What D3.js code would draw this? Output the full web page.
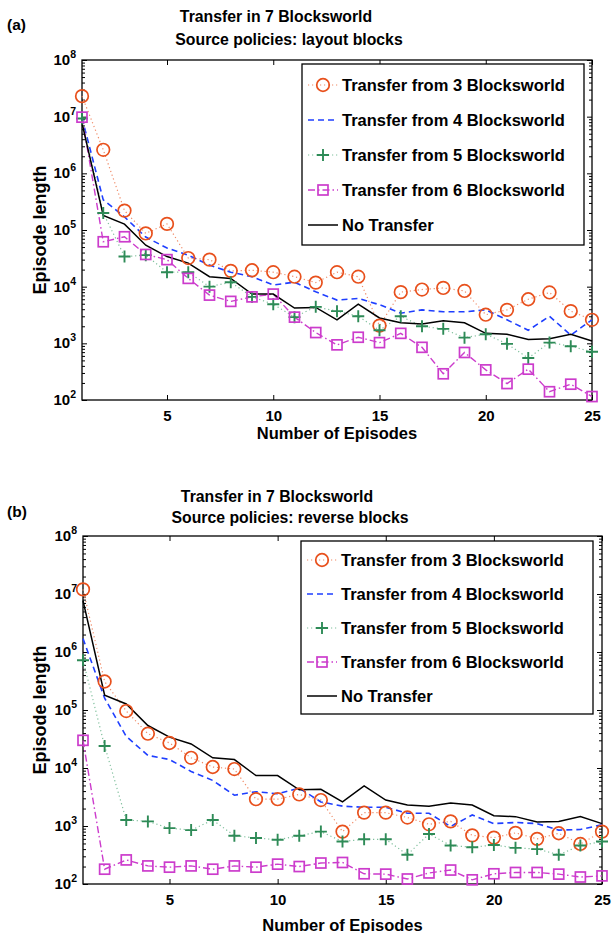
<!DOCTYPE html>
<html><head><meta charset="utf-8">
<script src="https://cdn.jsdelivr.net/npm/d3@7"></script>
<style>
body{margin:0;background:#fff;}
svg{display:block;font-family:"Liberation Sans",Arial,Helvetica,sans-serif;font-weight:bold;}
</style></head>
<body>
<svg id="chart" width="612" height="933"></svg>
<script>
// ---- data ----
const episodes = d3.range(1, 26);
const seriesNames = ["Transfer from 3 Blocksworld","Transfer from 4 Blocksworld","Transfer from 5 Blocksworld","Transfer from 6 Blocksworld","No Transfer"];
const xTicks = [5, 10, 15, 20, 25];
const yDecades = [2, 3, 4, 5, 6, 7, 8];

const noTransfer = [7.7e6,1.8e5,1.27e5,5.4e4,3.4e4,2.6e4,1.5e4,1.4e4,7.4e3,7.4e3,4.2e3,4.3e3,2.6e3,4.9e3,2.8e3,2.3e3,2.2e3,2.5e3,2.3e3,1.5e3,1.45e3,1.17e3,1.2e3,1.45e3,1.1e3];

// (a) layout blocks
const layout3 = [2.3e7,2.6e6,2.2e5,8.7e4,1.28e5,3.2e4,3.0e4,1.9e4,1.95e4,1.8e4,1.5e4,1.18e4,1.8e4,1.5e4,2.05e3,8.0e3,8.9e3,9.5e3,8.4e3,3.2e3,3.9e3,6.0e3,7.9e3,3.7e3,2.6e3];
const layout4 = [9.5e6,3.4e5,1.7e5,7.5e4,4.8e4,3.6e4,2.4e4,1.8e4,1.5e4,1.07e4,1.2e4,8.1e3,5.8e3,6.2e3,4.8e3,3.4e3,3.9e3,3.6e3,3.6e3,3.9e3,2.6e3,1.7e3,3.0e3,1.4e3,2.6e3];
const layout5 = [9.3e6,2.0e5,3.4e4,3.6e4,1.8e4,1.8e4,1.0e4,1.2e4,6.6e3,4.9e3,2.9e3,4.4e3,3.7e3,3.0e3,1.7e3,3.0e3,2.0e3,1.8e3,1.26e3,1.45e3,980,550,1.03e3,890,710];
const layout6 = [9.8e6,6.2e4,7.6e4,3.7e4,3.0e4,1.4e4,7.1e3,5.5e3,6.6e3,7.4e3,2.9e3,1.55e3,940,1.28e3,1.03e3,1.5e3,850,290,690,340,195,350,140,190,115];

// (b) reverse blocks
const reverse3 = [1.2e7,3.1e5,9.6e4,3.9e4,2.7e4,1.5e4,1.04e4,9.6e3,2.9e3,2.9e3,3.5e3,2.8e3,800,1.7e3,1.7e3,1.4e3,1.07e3,1.2e3,690,630,760,600,750,490,800];
const reverse4 = [1.7e6,1.6e5,3.5e4,1.65e4,1.4e4,8.7e3,6.1e3,3.4e3,3.9e3,3.6e3,4.5e3,2.6e3,2.2e3,2.1e3,2.1e3,1.66e3,1.66e3,980,1.55e3,1.1e3,1.15e3,1.1e3,850,870,1.05e3];
const reverse5 = [7.2e5,2.4e4,1.27e3,1.2e3,920,850,1.27e3,680,620,580,680,800,540,590,590,320,730,460,430,470,420,400,320,460,540];
const reverse6 = [3.0e4,180,260,205,195,205,180,205,195,220,200,230,235,150,148,122,155,174,118,150,158,158,148,132,138];

const styles = [
  {color:"#e8501c", line:"#f08a66", dash:"1.2,2.8", width:1.2, marker:"circle"},
  {color:"#1f3fff", line:"#1f3fff", dash:"6,4", width:1.6, marker:null},
  {color:"#2e8b57", line:"#7fbf9c", dash:"1.2,2.8", width:1.2, marker:"plus"},
  {color:"#cc3ccc", line:"#cc3ccc", dash:"7,3,1.5,3", width:1.4, marker:"square"},
  {color:"#000000", line:"#000000", dash:null, width:1.5, marker:null}
];

const svg = d3.select("#chart");

function drawMarker(g, type, x, y, color){
  if(type==="circle"){
    g.append("circle").attr("cx",x).attr("cy",y).attr("r",6.3)
     .attr("fill","none").attr("stroke",color).attr("stroke-width",1.7);
  } else if(type==="square"){
    g.append("rect").attr("x",x-5).attr("y",y-5).attr("width",10).attr("height",10)
     .attr("fill","none").attr("stroke",color).attr("stroke-width",1.7);
  } else if(type==="plus"){
    g.append("path").attr("d",`M${x-6},${y}H${x+6}M${x},${y-6}V${y+6}`)
     .attr("stroke",color).attr("stroke-width",1.9).attr("fill","none");
  }
}

function panel(cfg){
  const {left,right,top,bottom,data,tag,title1,title2,title1X,title2X,title1Y,title2Y,tagY,legend,xLabelY} = cfg;
  const x = d3.scaleLinear().domain([1,25]).range([left,right]);
  const y = d3.scaleLog().domain([1e2,1e8]).range([bottom,top]);
  const g = svg.append("g");

  // frame
  g.append("rect").attr("x",left).attr("y",top).attr("width",right-left).attr("height",bottom-top)
    .attr("fill","none").attr("stroke","#000").attr("stroke-width",1.3);

  const majors = yDecades.map(e=>Math.pow(10,e));
  const minors = [];
  for(let e=2;e<8;e++) for(let m=2;m<=9;m++) minors.push(m*Math.pow(10,e));

  // axes
  g.append("g").attr("transform",`translate(${left},0)`).call(d3.axisLeft(y).tickValues(majors).tickSize(-5).tickFormat(()=> ""));
  g.append("g").attr("transform",`translate(${left},0)`).call(d3.axisLeft(y).tickValues(minors).tickSize(-3).tickFormat(()=>""));
  g.append("g").attr("transform",`translate(${right},0)`).call(d3.axisRight(y).tickValues(majors).tickSize(-5).tickFormat(()=>""));
  g.append("g").attr("transform",`translate(${right},0)`).call(d3.axisRight(y).tickValues(minors).tickSize(-3).tickFormat(()=>""));
  const gx = g.append("g").attr("transform",`translate(0,${bottom})`).call(d3.axisBottom(x).tickValues(xTicks).tickSize(-5).tickPadding(10).tickFormat(d3.format("d")));
  g.append("g").attr("transform",`translate(0,${top})`).call(d3.axisTop(x).tickValues(xTicks).tickSize(-5).tickFormat(()=>""));
  g.selectAll(".domain").remove();
  g.selectAll(".tick line").attr("stroke","#000").attr("stroke-width",1);
  gx.selectAll("text").attr("font-size",15).attr("font-weight","bold").attr("fill","#000").attr("font-family","Liberation Sans, Arial, sans-serif");

  // y tick labels 10^n
  majors.forEach(v=>{
    const t = g.append("text").attr("x",left-6).attr("y",y(v)+5).attr("text-anchor","end")
      .attr("font-size",15).attr("fill","#000");
    t.append("tspan").text("10");
    t.append("tspan").attr("dy",-7).attr("font-size",10.5).text(String(Math.round(Math.log10(v))));
  });

  // series
  const line = d3.line().x((d,i)=>x(episodes[i])).y(d=>y(d));
  data.forEach((vals,si)=>{
    const s = styles[si];
    const p = g.append("path").datum(vals).attr("d",line).attr("fill","none")
      .attr("stroke",s.line).attr("stroke-width",s.width);
    if(s.dash) p.attr("stroke-dasharray",s.dash);
  });
  data.forEach((vals,si)=>{
    const s = styles[si];
    if(s.marker){
      vals.forEach((v,i)=>drawMarker(g,s.marker,x(episodes[i]),y(v),s.color));
    }
  });

  // legend
  const lg = g.append("g");
  lg.append("rect").attr("x",legend.x).attr("y",legend.y).attr("width",legend.w).attr("height",legend.h)
    .attr("fill","#fff").attr("stroke","#000").attr("stroke-width",1.3);
  seriesNames.forEach((name,i)=>{
    const yy = legend.y + legend.first + i*legend.step;
    const s = styles[i];
    const l = lg.append("line").attr("x1",legend.x+6).attr("x2",legend.x+36).attr("y1",yy).attr("y2",yy)
      .attr("stroke",s.line).attr("stroke-width",s.width);
    if(s.dash) l.attr("stroke-dasharray",s.dash);
    if(s.marker) drawMarker(lg,s.marker,legend.x+21,yy,s.color);
    lg.append("text").attr("x",legend.x+40).attr("y",yy+6).attr("font-size",16.5).attr("fill","#000").text(name);
  });

  // titles and labels
  g.append("text").attr("x",title1X).attr("y",title1Y).attr("text-anchor","middle").attr("font-size",15.8).text(title1);
  g.append("text").attr("x",title2X).attr("y",title2Y).attr("text-anchor","middle").attr("font-size",15.8).text(title2);
  g.append("text").attr("x",7).attr("y",tagY).attr("font-size",15.5).text(tag);
  g.append("text").attr("x",(left+right)/2).attr("y",xLabelY).attr("text-anchor","middle").attr("font-size",16.5).text("Number of Episodes");
  g.append("text").attr("transform",`translate(46,${(top+bottom)/2}) rotate(-90)`).attr("text-anchor","middle").attr("font-size",18).text("Episode length");
}

panel({left:82,right:592,top:60,bottom:400,
  data:[layout3,layout4,layout5,layout6,noTransfer],
  tag:"(a)",tagY:30,
  title1:"Transfer in 7 Blocksworld",title2:"Source policies: layout blocks",
  title1X:276,title2X:289,title1Y:22,title2Y:45,xLabelY:439,
  legend:{x:302,y:64,w:282,h:181,first:21,step:35}});

panel({left:83,right:602,top:536,bottom:884,
  data:[reverse3,reverse4,reverse5,reverse6,noTransfer],
  tag:"(b)",tagY:517,
  title1:"Transfer in 7 Blocksworld",title2:"Source policies: reverse blocks",
  title1X:277,title2X:290,title1Y:502,title2Y:523,xLabelY:931,
  legend:{x:301,y:541,w:292,h:173,first:19,step:34}});
</script>
</body></html>
